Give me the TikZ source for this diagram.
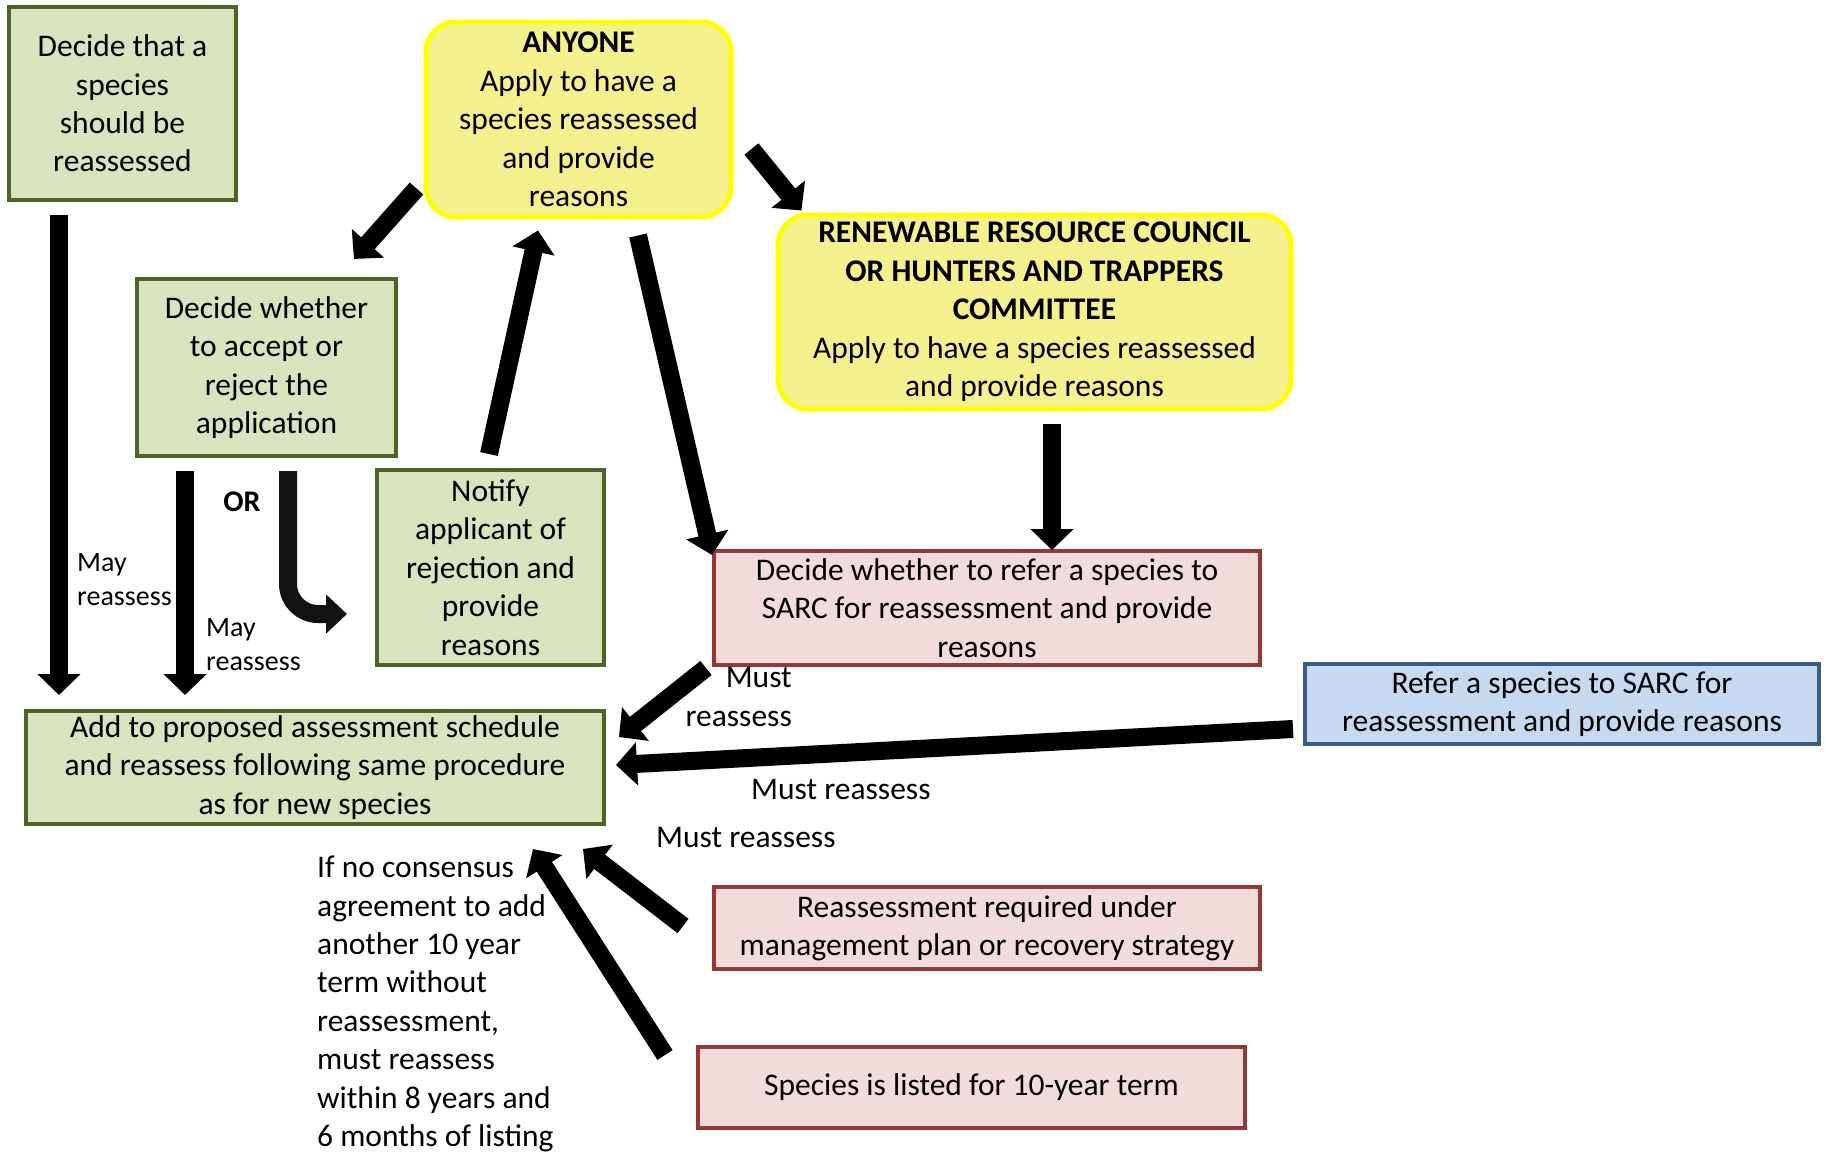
\documentclass[tikz,border=0pt]{standalone}
\usepackage{fontspec}
\setmainfont{Carlito}
\usetikzlibrary{arrows.meta,calc}
\definecolor{gfill}{HTML}{D7E4BD}
\definecolor{gline}{HTML}{4F6228}
\definecolor{yfill}{HTML}{F4F08E}
\definecolor{yline}{HTML}{FFFF00}
\definecolor{rfill}{HTML}{F2DCDB}
\definecolor{rline}{HTML}{953735}
\definecolor{bfill}{HTML}{C6D9F1}
\definecolor{bline}{HTML}{385D8A}
\newcommand\bigtxt{\fontsize{31.5pt}{38.4pt}\selectfont}
\newcommand\smalltxt{\fontsize{28pt}{34pt}\selectfont}
\tikzset{
  box/.style={line width=4pt, inner sep=0pt, align=center, font=\bigtxt},
  gbox/.style={box, draw=gline, fill=gfill},
  ybox/.style={box, draw=yline, fill=yfill, line width=5pt, rounded corners=30pt},
  rbox/.style={box, draw=rline, fill=rfill},
  bbox/.style={box, draw=bline, fill=bfill},
  lbl/.style={inner sep=0pt, font=\bigtxt},
  slbl/.style={inner sep=0pt, font=\smalltxt, align=left, anchor=west},
  barrow/.style={line width=18pt, -{Triangle[length=21pt,width=42pt]}},
}
\begin{document}
\begin{tikzpicture}[x=1pt,y=-1pt]
\useasboundingbox (0,0) rectangle (1826,1154);

% boxes
\node[gbox, minimum width=227pt, minimum height=193pt] (A) at (122.5,103.5)
  {Decide that a\\species\\should be\\reassessed};
\node[ybox, minimum width=305pt, minimum height=195pt] (any) at (578.5,119.5)
  {\textbf{ANYONE}\\Apply to have a\\species reassessed\\and provide\\reasons};
\node[ybox, minimum width=513pt, minimum height=194pt] (rrc) at (1034.5,312)
  {\textbf{RENEWABLE RESOURCE COUNCIL}\\\textbf{OR HUNTERS AND TRAPPERS}\\\textbf{COMMITTEE}\\Apply to have a species reassessed\\and provide reasons};
\node[gbox, minimum width=259pt, minimum height=177pt] (acc) at (266.5,367.5)
  {Decide whether\\to accept or\\reject the\\application};
\node[gbox, minimum width=227pt, minimum height=195pt] (notify) at (490.5,567.5)
  {Notify\\applicant of\\rejection and\\provide\\reasons};
\node[rbox, minimum width=546pt, minimum height=114pt] (ref) at (987,608)
  {Decide whether to refer a species to\\SARC for reassessment and provide\\reasons};
\node[bbox, minimum width=514pt, minimum height=80pt] (blue) at (1562,704)
  {Refer a species to SARC for\\reassessment and provide reasons};
\node[gbox, minimum width=578pt, minimum height=113pt] (add) at (315,767.5)
  {Add to proposed assessment schedule\\and reassess following same procedure\\as for new species};
\node[rbox, minimum width=546pt, minimum height=82pt] (reass) at (987,928)
  {Reassessment required under\\management plan or recovery strategy};
\node[rbox, minimum width=547pt, minimum height=81pt] (listed) at (971.5,1087.5)
  {Species is listed for 10-year term};

% labels
\node[slbl] (l1) at (77,580) {May\\reassess};
\node[slbl] (l2) at (206,644.5) {May\\reassess};
\node[lbl, font=\fontsize{30pt}{36pt}\selectfont\bfseries] (or) at (242,502) {OR};
\node[lbl, anchor=east, align=right] (l3) at (792,697) {Must\\reassess};
\node[lbl, anchor=west] (l4) at (751,790) {Must reassess};
\node[lbl, anchor=west] (l5) at (656,837) {Must reassess};
\node[lbl, anchor=west, align=left] (l6) at (317,1004)
  {If no consensus\\agreement to add\\another 10 year\\term without\\reassessment,\\must reassess\\within 8 years and\\6 months of listing};

% arrows
\draw[barrow] ($(A.south west)+(52,13)$) -- ($(add.north west)+(35,-14)$);
\draw[barrow] ($(any.south west)+(-7,-31)$) -- ($(acc.north east)+(-44,-18)$);
\draw[barrow] ($(notify.north)+(-1.5,-14)$) -- ($(any.south)+(-40.5,11)$);
\draw[barrow] ($(any.south)+(59.5,16)$) -- ($(ref.north west)+(0,6)$);
\draw[barrow] ($(any.east)+(18,29.5)$) -- ($(rrc.north west)+(26,-2)$);
\draw[barrow] ($(rrc.south)+(17.5,12)$) -- ($(ref.north)+(65,1)$);
\draw[barrow] ($(acc.south west)+(50,13)$) -- ($(add.north west)+(161,-14)$);
\draw[line width=18pt, color=black!93, rounded corners=30pt, -{Triangle[length=21pt,width=38pt]}]
  ($(acc.south west)+(153,13)$) |- ($(notify.west)+(-28,46.5)$);
\draw[barrow] ($(ref.south west)+(-6,1)$) -- ($(add.north east)+(13,28)$);
\draw[barrow] ($(blue.west)+(-10,25)$) -- ($(add.east)+(10,-2.5)$);
\draw[barrow] ($(reass.west)+(-29,-2)$) -- ($(add.south east)+(-23,23)$);
\draw[barrow] ($(listed.north west)+(-31,10)$) -- ($(add.south east)+(-73,23)$);
\end{tikzpicture}
\end{document}
